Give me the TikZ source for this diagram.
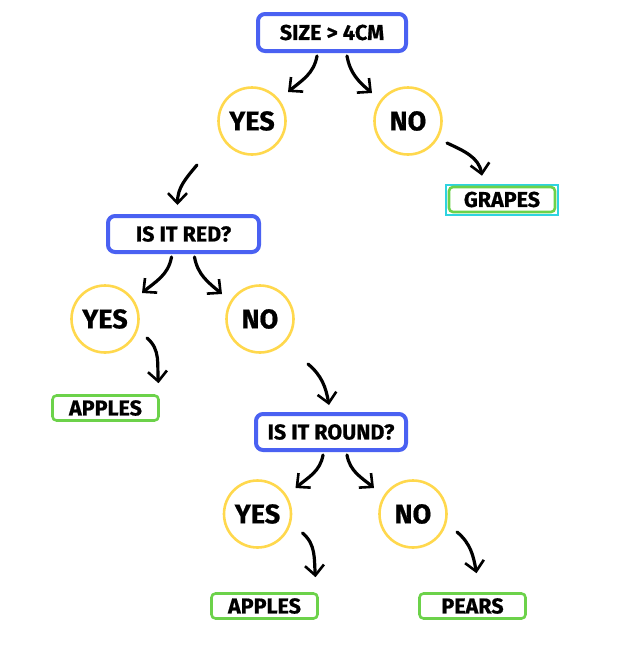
\documentclass[tikz,border=0pt]{standalone}
\usepackage{fontspec}
\setmainfont{Fira Sans}
\newfontfamily\heavy{Fira Sans}[FakeBold=0.7]
\usetikzlibrary{arrows.meta,calc}
\definecolor{qblue}{HTML}{4A61F2}
\definecolor{cyel}{HTML}{FFD84D}
\definecolor{lgreen}{HTML}{6CD24A}
\definecolor{selcyan}{HTML}{2ED3E0}
\tikzset{
  qbox/.style={draw=qblue,line width=4pt,rounded corners=7pt,fill=white,inner sep=0pt,
    font=\fontsize{21.5}{24}\selectfont\heavy\bfseries},
  ans/.style={circle,draw=cyel,line width=2.6pt,minimum size=67pt,inner sep=0pt,
    font=\fontsize{27}{30}\selectfont\heavy\bfseries},
  leaf/.style={draw=lgreen,line width=2.6pt,rounded corners=4pt,fill=white,inner sep=0pt,
    minimum width=106pt,minimum height=25pt,font=\fontsize{21.5}{24}\selectfont\heavy\bfseries},
  arr/.style={draw=black,line width=3.2pt,line cap=round,
    -{Straight Barb[length=10pt,width=19pt,line width=2.6pt]}},
}
\begin{document}
\begin{tikzpicture}[x=1pt,y=-1pt]
\useasboundingbox (0,0) rectangle (630,648);
% question boxes
\node[qbox,minimum width=148pt,minimum height=37pt] (size) at (332,32.5) {SIZE > 4CM};
\node[qbox,minimum width=151pt,minimum height=36pt] (red) at (183.5,234) {IS IT RED?};
\node[qbox,minimum width=150pt,minimum height=36pt] (round) at (331,432) {IS IT ROUND?};
% answers
\node[ans] (yes1) at (252,121) {YES};
\node[ans] (no1) at (408,121) {NO};
\node[ans] (yes2) at (105,319) {YES};
\node[ans] (no2) at (260,319) {NO};
\node[ans] (yes3) at (257.5,514) {YES};
\node[ans] (no3) at (413,514) {NO};
% leaves
\node[draw=selcyan,line width=1.4pt,minimum width=112pt,minimum height=30pt,inner sep=0pt] (sel) at (502,200) {};
\node[leaf] (grapes) at (502,199.5) {GRAPES};
\node[leaf] (apples1) at (105.5,408) {APPLES};
\node[leaf] (apples2) at (264.5,606) {APPLES};
\node[leaf] (pears) at (472.5,606) {PEARS};
% connectors
\draw[arr] ($(size.south)+(-15,3)$) to[out=-100,in=40] ($(yes1.center)+(36,-29)$);
\draw[arr] ($(size.south)+(15,3)$) to[out=-80,in=140] ($(no1.center)+(-36,-28)$);
\draw[arr] ($(no1.center)+(39,22)$) to[out=-25,in=100] ($(grapes.north)+(-20,-10)$);
\draw[arr] ($(yes1.center)+(-55,44)$) to[out=-130,in=90] ($(red.north)+(-6,-9)$);
\draw[arr] ($(red.south)+(-12,3)$) to[out=-100,in=40] ($(yes2.center)+(37,-26)$);
\draw[arr] ($(red.south)+(11,3)$) to[out=-80,in=140] ($(no2.center)+(-38,-25)$);
\draw[arr] ($(yes2.center)+(42,19)$) to[out=-40,in=95] ($(apples1.north)+(53,-11)$);
\draw[arr] ($(no2.center)+(48,45)$) to[out=-40,in=100] ($(round.north)+(-2,-7)$);
\draw[arr] ($(round.south)+(-8,3)$) to[out=-100,in=40] ($(yes3.center)+(38,-26)$);
\draw[arr] ($(round.south)+(16,3)$) to[out=-80,in=140] ($(no3.center)+(-39,-26)$);
\draw[arr] ($(yes3.center)+(45,19)$) to[out=-40,in=95] ($(apples2.north)+(51,-15)$);
\draw[arr] ($(no3.center)+(44,18)$) to[out=-40,in=100] ($(pears.north)+(4,-19)$);
\end{tikzpicture}
\end{document}
